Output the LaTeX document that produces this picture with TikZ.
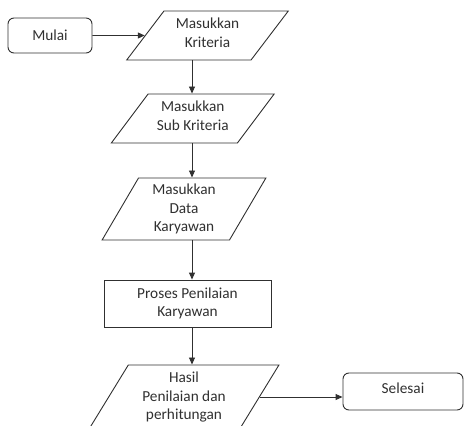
\documentclass[tikz,border=0pt]{standalone}
\usepackage{fontspec}
\setmainfont{Carlito}
\usetikzlibrary{shapes.geometric,arrows.meta}
\definecolor{ink}{HTML}{303030}
\tikzset{
  base/.style={draw=ink, line width=0.9pt, text=ink, inner sep=0pt, align=center,
    font=\fontsize{15.3}{18.8}\selectfont},
  term/.style={base, rectangle, rounded corners=6pt},
  io/.style={base, trapezium, trapezium stretches=true},
  proc/.style={base, rectangle},
  txt/.style={text=ink, inner sep=0pt, align=center, font=\fontsize{15.3}{18.8}\selectfont},
  arr/.style={draw=ink, line width=0.9pt, -{Triangle[length=7pt,width=6pt]}}
}
\begin{document}
\begin{tikzpicture}[x=1pt,y=-1pt]
\useasboundingbox (0,0) rectangle (464,426);
\clip (0,0) rectangle (464,426);
\node[term, minimum width=84pt, minimum height=35pt] (mulai) at (50,35.5) {Mulai};
\node[io, trapezium left angle=56, trapezium right angle=124, minimum width=162pt, minimum height=49pt] (p1) at (207.5,35.5) {\phantom{Mi}};
\node[txt] (p1t) at ([yshift=3pt]p1.center) {Masukkan\\Kriteria};
\node[io, trapezium left angle=57, trapezium right angle=123, minimum width=163pt, minimum height=49pt] (p2) at (192.75,118.5) {\phantom{Mi}};
\node[txt] (p2t) at ([yshift=3pt]p2.center) {Masukkan\\Sub Kriteria};
\node[io, trapezium left angle=63.4, trapezium right angle=116.6, minimum width=164pt, minimum height=62pt] (p3) at (184,209) {Masukkan\\Data\\Karyawan};
\node[proc, minimum width=167pt, minimum height=47pt] (pr) at (187.5,303.5) {Proses Penilaian\\Karyawan};
\node[io, trapezium left angle=60, trapezium right angle=120, minimum width=190pt, minimum height=64pt] (h) at (184,397) {Hasil\\Penilaian dan\\perhitungan};
\node[term, minimum width=120pt, minimum height=37pt] (s) at (403,391.5) {};
\node[txt] (st) at ([yshift=3.5pt]s.center) {Selesai};
\coordinate (ax) at (192,0);
\draw[arr] (mulai.east) -- (p1.west);
\draw[arr] (ax |- p1.south) -- (ax |- p2.north);
\draw[arr] (ax |- p2.south) -- (ax |- p3.north);
\draw[arr] (ax |- p3.south) -- (ax |- pr.north);
\draw[arr] (ax |- pr.south) -- (ax |- h.north);
\draw[arr] (h.east) -- (h.east -| s.west);
\end{tikzpicture}
\end{document}
